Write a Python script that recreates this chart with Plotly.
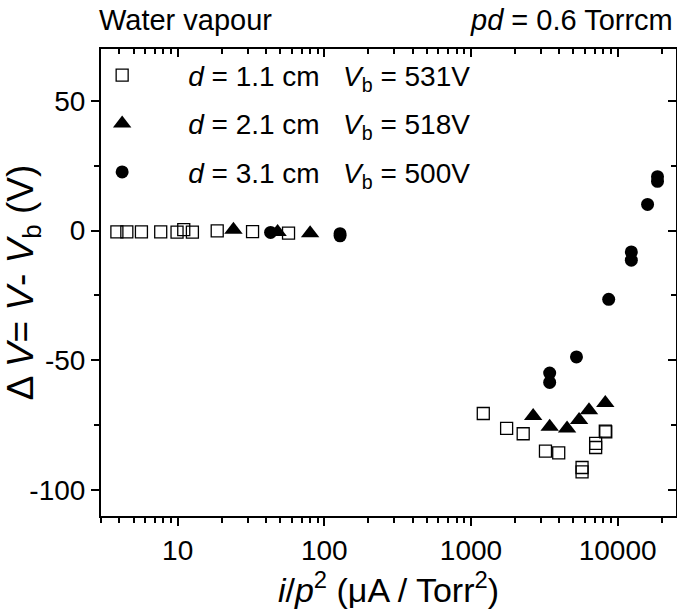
import plotly.graph_objects as go

# Series 1: d = 1.1 cm (open squares)
x1 = [3.85, 4.5, 5.66, 7.66, 9.9, 11.0, 12.6, 18.6, 32.4, 57,
      1213, 1750, 2270, 3220, 3965, 5720, 5720, 7080, 7080, 8240, 8300]
y1 = [-0.5, -0.5, -0.5, -0.5, -0.6, 0.4, -0.6, -0.1, -0.4, -1.0,
      -70.5, -76.2, -78.3, -85.0, -85.7, -91.3, -93.0, -83.6, -82.0, -77.3, -77.6]

# Series 2: d = 2.1 cm (filled triangles)
x2 = [24, 48, 80, 2655, 3440, 4520, 5460, 6380, 8240]
y2 = [0.3, -0.5, -1.0, -71.5, -75.6, -76.3, -73.0, -69.2, -66.4]

# Series 3: d = 3.1 cm (filled circles)
x3 = [43, 128, 128, 3440, 3440, 5240, 8690, 12400, 12400, 16000, 18700, 18700]
y3 = [-0.7, -1.2, -2.0, -54.9, -58.5, -48.7, -26.5, -8.2, -11.4, 10.1, 20.8, 19.0]

names = ["<i>d</i> = 1.1 cm   <i>V</i><sub>b</sub> = 531V",
         "<i>d</i> = 2.1 cm   <i>V</i><sub>b</sub> = 518V",
         "<i>d</i> = 3.1 cm   <i>V</i><sub>b</sub> = 500V"]

x_major = [10, 100, 1000, 10000]
x_major_text = ["10", "100", "1000", "10000"]
x_minor = [3, 4, 5, 6, 7, 8, 9, 20, 30, 40, 50, 60, 70, 80, 90,
           200, 300, 400, 500, 600, 700, 800, 900,
           2000, 3000, 4000, 5000, 6000, 7000, 8000, 9000, 20000]
y_major = [-100, -50, 0, 50]
y_major_text = ["-100", "-50", "0", "50"]
y_minor = [-75, -25, 25]

FONT = "Liberation Sans, Arial, sans-serif"
xr = [0.4771, 4.398]
yr = [-110, 70]

fig = go.Figure()
fig.add_trace(go.Scatter(x=x1, y=y1, mode="markers", name=names[0], legendgroup="a",
                         marker=dict(symbol="square-open", size=12, color="black",
                                     line=dict(width=1.3, color="black"))))
fig.add_trace(go.Scatter(x=x2, y=y2, mode="markers", name=names[1], legendgroup="b",
                         marker=dict(symbol="triangle-up", size=16, color="black")))
fig.add_trace(go.Scatter(x=x3, y=y3, mode="markers", name=names[2], legendgroup="c",
                         marker=dict(symbol="circle", size=13, color="black")))
# invisible trace to carry the mirrored (top/right) axes
fig.add_trace(go.Scatter(x=x3, y=y3, mode="markers", xaxis="x2", yaxis="y2",
                         marker=dict(opacity=0), showlegend=False, hoverinfo="skip"))

common = dict(showgrid=False, zeroline=False, linecolor="black", linewidth=2,
              tickcolor="black", tickwidth=2, showline=True)

fig.update_layout(
    width=677, height=612,
    margin=dict(l=101, r=1, t=49, b=96),
    paper_bgcolor="white", plot_bgcolor="white",
    font=dict(family=FONT, size=28, color="black"),
    showlegend=True,
    legend=dict(x=-0.078, y=0.997, xanchor="left", yanchor="top",
                bgcolor="rgba(0,0,0,0)", font=dict(size=28),
                tracegroupgap=9, itemwidth=122),
    xaxis=dict(type="log", range=xr, tickmode="array", tickvals=x_major,
               ticktext=x_major_text, ticks="outside", ticklen=8,
               minor=dict(tickmode="array", tickvals=x_minor, ticks="outside",
                          ticklen=5, tickwidth=2, tickcolor="black"),
               title=dict(text="<i>i</i>/<i>p</i><sup>2</sup> (μA / Torr<sup>2</sup>)",
                          font=dict(size=34), standoff=6),
               **common),
    yaxis=dict(range=yr, tickmode="array", tickvals=y_major, ticktext=y_major_text,
               ticks="outside", ticklen=8,
               minor=dict(tickmode="array", tickvals=y_minor, ticks="outside",
                          ticklen=5, tickwidth=2, tickcolor="black"),
               title=dict(text="Δ <i>V</i>= <i>V</i>- <i>V</i><sub>b</sub> (V)",
                          font=dict(size=37), standoff=0),
               **common),
    xaxis2=dict(type="log", range=xr, overlaying="x", side="top", anchor="y",
                tickmode="array", tickvals=x_major, showticklabels=False,
                ticks="inside", ticklen=8,
                minor=dict(tickmode="array", tickvals=x_minor, ticks="inside",
                           ticklen=5, tickwidth=2, tickcolor="black"),
                **common),
    yaxis2=dict(range=yr, overlaying="y", side="right", anchor="x",
                tickmode="array", tickvals=y_major, showticklabels=False,
                ticks="inside", ticklen=8,
                minor=dict(tickmode="array", tickvals=y_minor, ticks="inside",
                           ticklen=5, tickwidth=2, tickcolor="black"),
                **common),
    annotations=[
        dict(text="Water vapour", xref="paper", yref="paper", x=-0.007, y=1.062,
             xanchor="left", yanchor="middle", showarrow=False, font=dict(size=29)),
        dict(text="<i>pd</i> = 0.6 Torrcm", xref="paper", yref="paper", x=0.998, y=1.062,
             xanchor="right", yanchor="middle", showarrow=False, font=dict(size=29)),
    ],
)

fig.write_html("out.html", config={"displayModeBar": False},
               post_script="document.body.style.margin='0';document.body.style.overflow='hidden';")
